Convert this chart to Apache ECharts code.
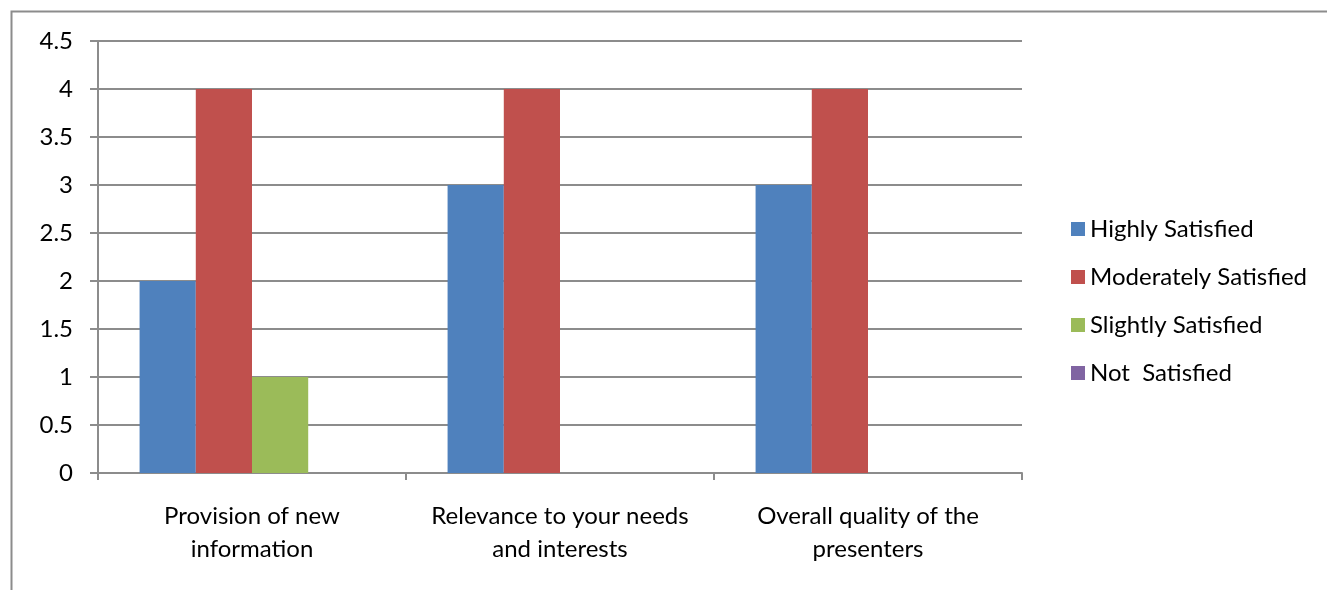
<!DOCTYPE html>
<html><head><meta charset="utf-8">
<script src="https://cdn.jsdelivr.net/npm/echarts@6/dist/echarts.min.js"></script>
<style>html,body{margin:0;padding:0;background:#fff}#c{width:1327px;height:590px}</style>
</head><body><div id="c"></div>
<script>
const categories = ['Provision of new\ninformation', 'Relevance to your needs\nand interests', 'Overall quality of the\npresenters'];
const seriesNames = ['Highly Satisfied', 'Moderately Satisfied', 'Slightly Satisfied', 'Not  Satisfied'];
const highly = [2, 3, 3];
const moderately = [4, 4, 4];
const slightly = [1, 0, 0];
const notSat = [0, 0, 0];
const colors = ['#4F81BD', '#C0504D', '#9BBB59', '#8064A2'];
const values = [highly, moderately, slightly, notSat];
const FONT = 'Lato, "Open Sans", sans-serif';
const chart = echarts.init(document.getElementById('c'));
chart.setOption({
  animation: false,
  color: colors,
  graphic: [{type:'rect', shape:{x:11.5, y:11.5, width:1340, height:620}, style:{fill:'none', stroke:'#8c8c8c', lineWidth:2}, silent:true}],
  grid: {left: 98, right: 305, top: 41, bottom: 117},
  legend: {
    orient: 'vertical', left: 1066, top: 212, itemWidth: 14, itemHeight: 14, itemGap: 24,
    icon: 'rect',
    textStyle: {fontFamily: FONT, fontSize: 24, lineHeight: 24, color: '#000'},
    data: seriesNames
  },
  xAxis: {
    type: 'category', data: categories,
    axisLine: {lineStyle: {color: '#8c8c8c', width: 2}},
    axisTick: {show: true, length: 7, lineStyle: {color: '#8c8c8c', width: 2}},
    axisLabel: {fontFamily: FONT, fontSize: 24, color: '#000', lineHeight: 33, margin: 27, interval: 0}
  },
  yAxis: {
    type: 'value', min: 0, max: 4.5, interval: 0.5,
    axisLine: {show: true, lineStyle: {color: '#8c8c8c', width: 2}},
    axisTick: {show: true, length: 8, lineStyle: {color: '#8c8c8c', width: 2}},
    splitLine: {lineStyle: {color: '#8c8c8c', width: 2}},
    axisLabel: {fontFamily: FONT, fontSize: 24, color: '#000', margin: 25}
  },
  series: seriesNames.map((n, i) => ({
    name: n, type: 'bar', data: values[i], barGap: '0%', barCategoryGap: '27%',
    itemStyle: {color: colors[i]}
  }))
});
</script></body></html>
